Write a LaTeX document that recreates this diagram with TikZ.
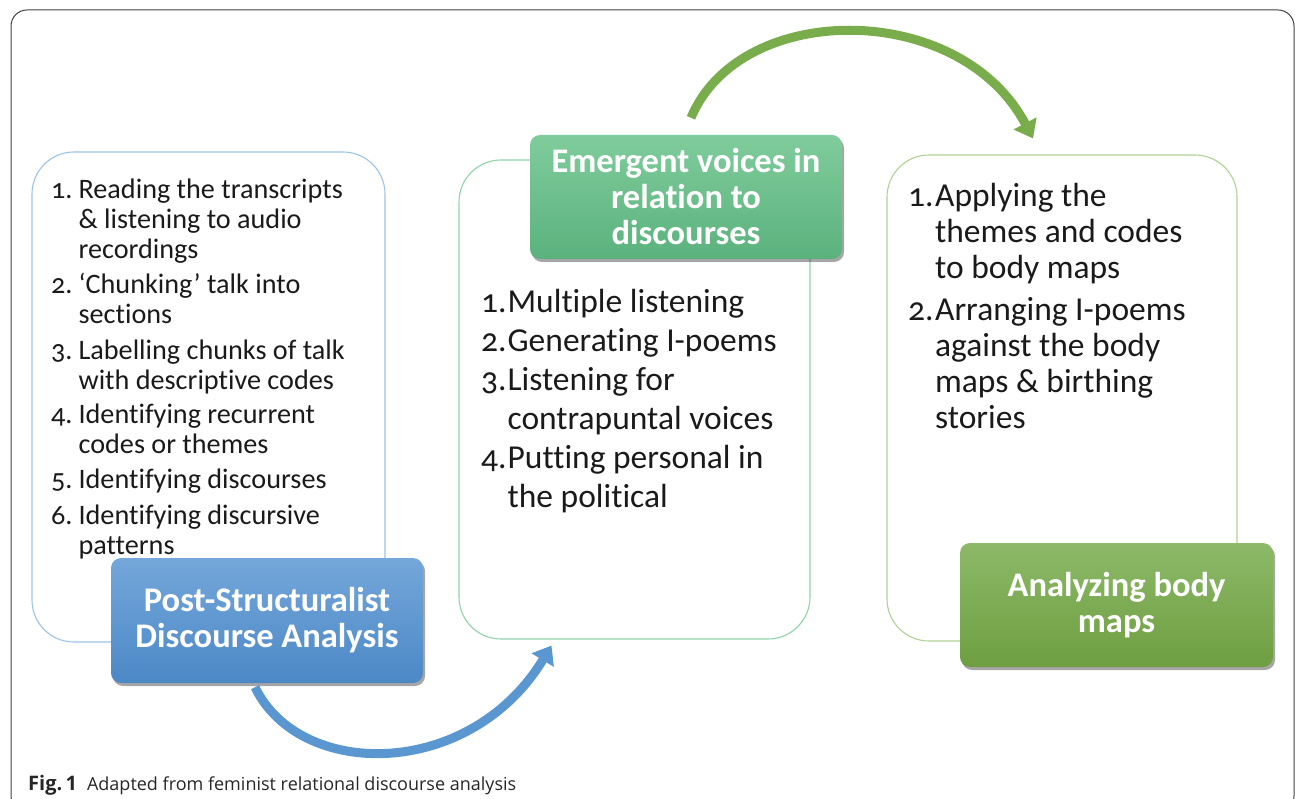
\documentclass[tikz,border=0pt]{standalone}
\usepackage{fontspec}
\setmainfont{Carlito}[Numbers=OldStyle, Ligatures={NoCommon}]
\newfontfamily\capfont{Open Sans}
\usetikzlibrary{arrows.meta,shadows,calc}
\definecolor{blueline}{HTML}{9DC3E6}
\definecolor{greenline}{HTML}{8ED3AA}
\definecolor{oliveline}{HTML}{AFD196}
\definecolor{bluetop}{HTML}{74A7DA}
\definecolor{bluebot}{HTML}{4C88C6}
\definecolor{greentop}{HTML}{80CC9C}
\definecolor{greenbot}{HTML}{5BB27D}
\definecolor{olivetop}{HTML}{8DB968}
\definecolor{olivebot}{HTML}{6E9E41}
\definecolor{bluearrow}{HTML}{5A96D0}
\definecolor{greenarrow}{HTML}{79AC4B}
\definecolor{textcol}{HTML}{1A1A1A}
\tikzset{
  outline/.style={draw, line width=1.1pt, rounded corners=42pt, shape=rectangle, inner sep=0pt},
  title/.style={shape=rectangle, rounded corners=10pt, text=white, align=center,
     font=\fontsize{34.5}{36}\selectfont\bfseries, inner sep=0pt,
     drop shadow={shadow xshift=2pt, shadow yshift=-3pt, opacity=0.35, fill=black}},
  bigarrow/.style={line width=9pt, -{Triangle[length=17pt,width=25pt]}},
  listtxt/.style={anchor=north west, inner sep=0pt, text=textcol, align=left}
}
\begin{document}
\begin{tikzpicture}[x=1pt,y=-1pt]
\useasboundingbox (0,0) rectangle (1295,799);
\begin{scope}
\clip (0,0) rectangle (1295,799);
\draw[line width=1pt, draw=black!75, rounded corners=16pt] (11,10) rectangle (1294,812);
\end{scope}

% outline boxes
\node[outline, draw=blueline, minimum width=353pt, minimum height=490pt] (lbox) at (208.5,397) {};
\node[outline, draw=greenline, minimum width=351pt, minimum height=479pt] (mbox) at (634.5,399.5) {};
\node[outline, draw=oliveline, minimum width=350pt, minimum height=486pt] (rbox) at (1062,398) {};

% lists
\node[listtxt, font=\fontsize{28.2}{30}\selectfont] (llist) at (51,177) {%
\begin{tabular}{@{}r@{\hspace{6pt}}l@{}}
1. & Reading the transcripts\\
   & \& listening to audio\\
   & recordings\\[5pt]
2. & `Chunking' talk into\\
   & sections\\[6pt]
3. & Labelling chunks of talk\\
   & with descriptive codes\\[4pt]
4. & Identifying recurrent\\
   & codes or themes\\[5pt]
5. & Identifying discourses\\[6pt]
6. & Identifying discursive\\
   & patterns
\end{tabular}};

\node[listtxt, font=\fontsize{33.5}{39}\selectfont] (mlist) at (481,285) {%
\begin{tabular}{@{}r@{\hspace{1pt}}l@{}}
1. & Multiple listening\\
2. & Generating I-poems\\
3. & Listening for\\
   & contrapuntal voices\\
4. & Putting personal in\\
   & the political
\end{tabular}};

\node[listtxt, font=\fontsize{33.5}{36}\selectfont] (rlist) at (908,181) {%
\begin{tabular}{@{}r@{\hspace{1.5pt}}l@{}}
1. & Applying the\\
   & themes and codes\\
   & to body maps\\[6pt]
2. & Arranging I-poems\\
   & against the body\\
   & maps \& birthing\\
   & stories
\end{tabular}};

% title boxes
\node[title, top color=bluetop, bottom color=bluebot, minimum width=312pt, minimum height=125pt] (pbox) at (267,620.5) {Post-Structuralist\\Discourse Analysis};
\node[title, top color=greentop, bottom color=greenbot, minimum width=312pt, minimum height=124pt] (ebox) at (686,197) {Emergent voices in\\relation to\\discourses};
\node[title, top color=olivetop, bottom color=olivebot, minimum width=313pt, minimum height=124pt] (abox) at (1116.5,605) {Analyzing body\\maps};

% arrows
\coordinate (a1s) at ($(pbox.south)+(-12,4)$);
\coordinate (a1e) at ($(mbox.south)+(-83,6)$);
\draw[bigarrow, draw=bluearrow] (a1s) .. controls (300,780) and (470,780) .. (a1e);
\coordinate (a2s) at ($(ebox.north)+(5,-17)$);
\coordinate (a2e) at ($(rbox.north)+(-29,-16)$);
\draw[bigarrow, draw=greenarrow] (a2s) .. controls (740,0) and (960,0) .. (a2e);

% caption
\node[anchor=base west, inner sep=0pt, font=\capfont\fontsize{18}{20}\selectfont, text=black!85] (cap) at (28,790) {{\fontsize{20}{20}\selectfont\textbf{Fig.\,1}}\hspace{10pt}Adapted from feminist relational discourse analysis};
\end{tikzpicture}
\end{document}
